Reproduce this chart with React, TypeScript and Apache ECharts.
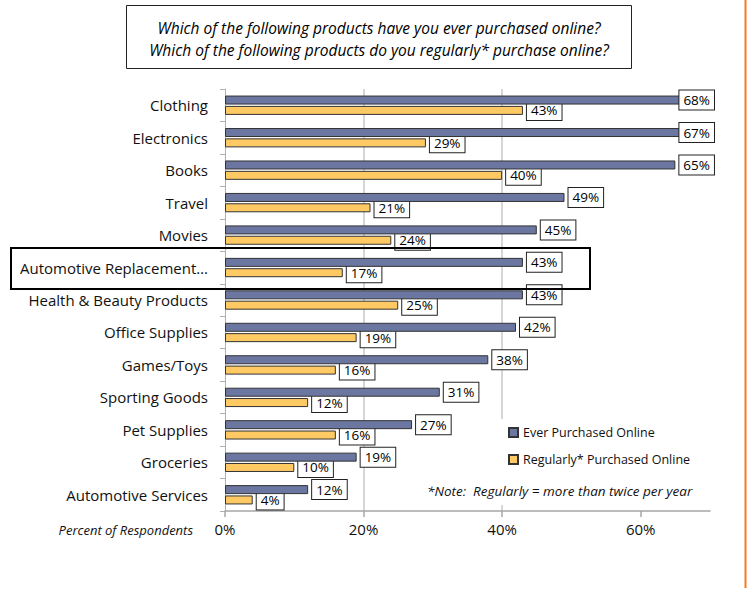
import React, { useEffect, useRef } from "react";
import * as echarts from "echarts";

const categories = [
  "Clothing",
  "Electronics",
  "Books",
  "Travel",
  "Movies",
  "Automotive Replacement…",
  "Health & Beauty Products",
  "Office Supplies",
  "Games/Toys",
  "Sporting Goods",
  "Pet Supplies",
  "Groceries",
  "Automotive Services",
];
const everPurchased = [68, 67, 65, 49, 45, 43, 43, 42, 38, 31, 27, 19, 12];
const regularlyPurchased = [43, 29, 40, 21, 24, 17, 25, 19, 16, 12, 16, 10, 4];
const xTicks = [0, 20, 40, 60];
const seriesNames = ["Ever Purchased Online", "Regularly* Purchased Online"];
const titleLines = [
  "Which of the following products have you ever purchased online?",
  "Which of the following products do you regularly* purchase online?",
];
const noteText = "*Note:  Regularly = more than twice per year";
const axisTitle = "Percent of Respondents";

const FONT = "'Open Sans', 'Noto Sans', sans-serif";
const LABEL_RIGHT_LIMIT = 715;

export default function App() {
  const ref = useRef<HTMLDivElement>(null);
  useEffect(() => {
    if (!ref.current) return;
    const chart = echarts.init(ref.current, null, { renderer: "svg" });
    const labelLayout = (params: any) => {
      const r = params.labelRect;
      const over = r.x + r.width - LABEL_RIGHT_LIMIT;
      return over > 0 ? { dx: -over } : {};
    };
    const labelBase = {
      show: true,
      position: "right" as const,
      distance: 4,
      formatter: "{c}%",
      fontFamily: FONT,
      fontSize: 13.5,
      color: "#000",
      backgroundColor: "#fff",
      borderColor: "#222",
      borderWidth: 1,
      padding: [3, 4, 2, 4],
    };
    chart.setOption({
      animation: false,
      textStyle: { fontFamily: FONT },
      grid: { left: 225, right: 38, top: 89, bottom: 81, containLabel: false },
      xAxis: {
        type: "value",
        min: 0,
        max: 70,
        interval: 20,
        axisLine: { show: true, lineStyle: { color: "#a6a6a6", width: 1.5 } },
        axisTick: {
          show: true,
          length: 6,
          customValues: xTicks,
          lineStyle: { color: "#a6a6a6", width: 1.5 },
        },
        axisLabel: {
          customValues: xTicks,
          formatter: "{value}%",
          fontSize: 15,
          color: "#111",
          margin: 10,
          fontFamily: FONT,
        },
        splitLine: {
          show: true,
          showMinLine: false,
          showMaxLine: false,
          lineStyle: { color: "#c8c8c8", width: 1.5 },
        },
      },
      yAxis: {
        type: "category",
        inverse: true,
        data: categories,
        axisLine: { show: true, lineStyle: { color: "#b0b0b0", width: 1 } },
        axisTick: { show: true, length: 5, lineStyle: { color: "#b0b0b0" } },
        axisLabel: {
          fontSize: 15,
          color: "#111",
          margin: 17,
          fontFamily: FONT,
        },
      },
      legend: {
        orient: "vertical",
        left: 508,
        top: 426,
        padding: 0,
        itemWidth: 9,
        itemHeight: 9,
        itemGap: 14,
        icon: "rect",
        data: seriesNames,
        textStyle: { fontSize: 12.5, color: "#111", fontFamily: FONT },
      },
      series: [
        {
          name: seriesNames[0],
          type: "bar",
          data: everPurchased,
          barWidth: 9,
          barGap: "15%",
          itemStyle: { color: "#6B76A1", borderColor: "#333", borderWidth: 1 },
          label: { ...labelBase, offset: [0, -3] },
          labelLayout,
          z: 3,
        },
        {
          name: seriesNames[1],
          type: "bar",
          data: regularlyPurchased,
          barWidth: 9,
          barGap: "15%",
          itemStyle: { color: "#FFC964", borderColor: "#333", borderWidth: 1 },
          label: { ...labelBase, offset: [0, 3] },
          labelLayout,
          z: 2,
        },
      ],
      graphic: [
        {
          type: "rect",
          z: 1,
          shape: { x: 488, y: 419, width: 212, height: 58 },
          style: { fill: "#fff" },
        },
        {
          type: "rect",
          z: 1,
          shape: { x: 415, y: 477, width: 285, height: 28 },
          style: { fill: "#fff" },
        },
        {
          type: "text",
          z: 5,
          x: 427,
          y: 491,
          style: {
            text: noteText,
            font: `italic 13.5px ${FONT}`,
            fill: "#111",
            textAlign: "left",
            textVerticalAlign: "middle",
          },
        },
        {
          type: "rect",
          z: 5,
          shape: { x: 126.5, y: 5.5, width: 505, height: 63 },
          style: { fill: "#fff", stroke: "#222", lineWidth: 1 },
        },
        {
          type: "text",
          z: 6,
          x: 379,
          y: 28,
          style: {
            text: titleLines[0],
            font: `italic 15.5px ${FONT}`,
            fill: "#000",
            textAlign: "center",
            textVerticalAlign: "middle",
          },
        },
        {
          type: "text",
          z: 6,
          x: 379,
          y: 50,
          style: {
            text: titleLines[1],
            font: `italic 15.5px ${FONT}`,
            fill: "#000",
            textAlign: "center",
            textVerticalAlign: "middle",
          },
        },
        {
          type: "text",
          z: 5,
          x: 193,
          y: 530,
          style: {
            text: axisTitle,
            font: `italic 13px ${FONT}`,
            fill: "#111",
            textAlign: "right",
            textVerticalAlign: "middle",
          },
        },
        {
          type: "rect",
          z: 10,
          shape: { x: 11, y: 248, width: 579, height: 41 },
          style: { fill: "none", stroke: "#000", lineWidth: 2 },
        },
        {
          type: "line",
          z: 10,
          shape: { x1: 745.5, y1: 0, x2: 745.5, y2: 588 },
          style: { stroke: "#F47B20", lineWidth: 2 },
        },
      ],
    });
    return () => chart.dispose();
  }, []);
  return (
    <div
      ref={ref}
      style={{ position: "fixed", left: 0, top: 0, width: 748, height: 592, background: "#fff" }}
    />
  );
}
